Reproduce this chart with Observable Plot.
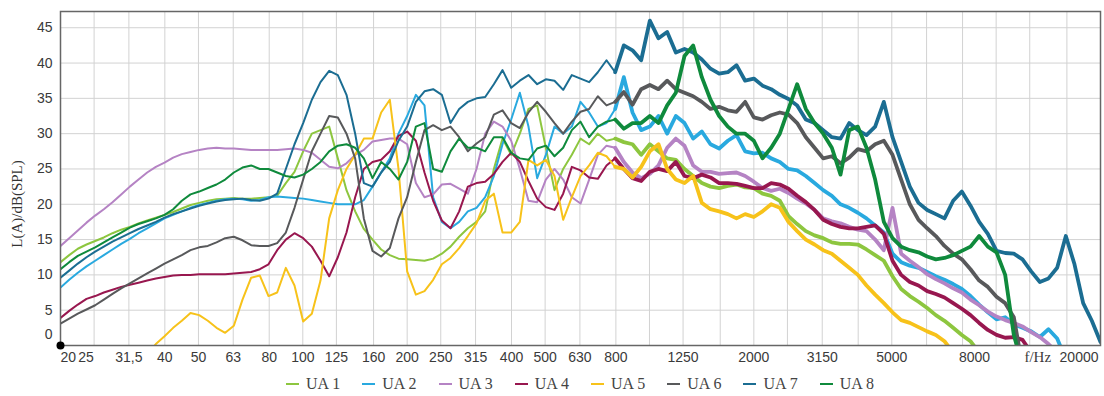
<!DOCTYPE html>
<html><head><meta charset="utf-8">
<script src="https://cdn.jsdelivr.net/npm/d3@7"></script>
<script src="https://cdn.jsdelivr.net/npm/@observablehq/plot@0.6"></script>
<style>
html,body{margin:0;padding:0;background:#fff;overflow:hidden;}
#wrap{position:relative;width:1104px;height:396px;}
#ylabel{position:absolute;left:17px;top:204px;transform:translate(-50%,-50%) rotate(-90deg);white-space:nowrap;font-family:"Liberation Serif",serif;font-size:15px;color:#333;}
#legend{display:flex;justify-content:center;align-items:center;box-sizing:border-box;padding-left:60px;padding-right:4px;height:24px;font-family:"Liberation Serif",serif;font-size:16px;color:#444;}
.item{display:flex;align-items:center;margin:0 11px;}
.sw{width:13px;height:2.5px;margin-right:7px;}
</style></head><body>
<div id="wrap"><div id="chart"></div><div id="legend"></div><div id="ylabel">L(A)/dB(SPL)</div></div>
<script>
// frequency grid (Hz), 1/12-octave steps from 20 Hz to 20 kHz
const freqs = [
20,21.19,22.44,23.77,25.18,26.67,28.25,29.93,31.7,33.58,35.57,37.68,
39.91,42.27,44.77,47.43,50.24,53.21,56.37,59.71,63.25,66.99,70.96,75.17,
79.62,84.34,89.34,94.63,100.24,106.18,112.47,119.14,126.19,133.67,141.59,149.98,
158.87,168.28,178.25,188.81,200,211.9,224.4,237.7,251.8,266.7,282.5,299.3,
317,335.8,355.7,376.8,399.1,422.7,447.7,474.3,502.4,532.1,563.7,597.1,
632.5,669.9,709.6,751.7,796.2,843.4,893.4,946.3,1002.4,1061.8,1124.7,1191.4,
1261.9,1336.7,1415.9,1499.8,1588.7,1682.8,1782.5,1888.1,2000,2119,2244,2377,
2518,2667,2825,2993,3170,3358,3557,3768,3991,4227,4477,4743,
5024,5321,5637,5971,6325,6699,7096,7517,7962,8434,8934,9463,
10024,10618,11247,11914,12619,13367,14159,14998,15887,16828,17825,18881,
20000];

const ua1 = [
11.8,12.8,13.7,14.3,14.8,15.3,15.9,16.4,16.8,17.3,17.7,18.1,
18.5,18.9,19.4,19.9,20.2,20.5,20.7,20.8,20.9,20.8,20.8,20.9,
21,21.2,23,24.6,27.5,30,30.5,31,26.5,22,19,16.5,
15,13.6,12.8,12.3,12.2,12.1,12,12.3,13,14,15.4,16.6,
17.5,19,25,29.3,27,30,33.5,34,28,22,25,27,
29.3,28.5,30,29,29.3,28.8,28.5,27,28.5,27.5,26.5,26.3,
25,24,23,22.5,22.3,22.6,22.8,22.4,22.3,21.5,21.2,20.5,
18.3,17.2,16.2,15.6,15.2,14.6,14.4,14.4,14.3,13.6,12.8,12,
9.8,8,7,6.2,5.3,4.3,3.5,2.5,1.5,0.6,-1,null,
null,null,null,null,null,null,null,null,null,null,null,null,
null];

const ua2 = [
8.2,9.3,10.3,11.2,12,12.8,13.6,14.4,15.1,15.9,16.6,17.3,
18,18.5,19,19.5,19.9,20.2,20.5,20.7,20.8,20.7,20.5,20.6,
21,21.1,21,20.9,20.8,20.6,20.4,20.2,20,20,20,20.6,
22.5,24.5,26.5,30,32.5,35.5,34,21,17.5,16.6,17.5,19,
19.5,21,24,28.5,32,35.8,31,23.7,27,31,30,31,
34.5,33,31,31.5,33.5,38,33,30.5,31,32.5,30,32.5,
31.5,29.3,30.3,28.5,27.9,29,29.8,27.5,27.2,27.3,26.5,26,
25,24.8,24,23,22,21.2,20,19.5,18.8,18,17,16,
13,11.8,11.3,11,10.4,9.8,9.3,8.7,8,7,5.8,4.7,
3.7,4,3,2.5,2,1.2,2.3,1,-2,null,null,null,
null];

const ua3 = [
14.1,15.2,16.3,17.4,18.4,19.3,20.3,21.4,22.5,23.5,24.5,25.3,
25.9,26.6,27.1,27.4,27.7,27.9,28,27.9,27.9,27.8,27.7,27.7,
27.7,27.7,27.8,27.9,27.7,27.3,26.3,25.3,25.1,25.8,27,27.7,
28.9,29.1,29.3,29.3,28.5,23,21,21.4,22.8,22.9,22.2,21.5,
25,30,31.7,31,29,25,20.5,20.3,23.5,25,23.5,21,
20.1,23.5,27,28.3,28,26,24.5,23.7,24.3,25.5,28,29.3,
28.3,25.5,24.6,24.6,24.3,24.4,24.5,24,23.2,22.3,21.9,22.2,
21.6,20.8,20.1,19.2,18,17.6,17.3,16.8,16.4,16.2,15,13.5,
19.5,13,12,11.1,10.1,9.4,8.8,8.1,7.5,6.5,5.7,4.8,
4.1,3.6,3.2,2.7,1.9,1.2,0.2,-1,null,null,null,null,
null];

const ua4 = [
3.9,4.9,5.8,6.6,7,7.5,7.9,8.3,8.6,8.9,9.2,9.5,
9.7,9.9,10,10,10.1,10.1,10.1,10.1,10.2,10.3,10.4,10.8,
11.5,13.5,15,15.9,15.2,14,12,9.8,12.5,16,21,25,
26,26.3,27.5,29.7,30.3,29,24.5,20.5,17.7,16.6,19,22.5,
23,23.2,24.3,26,27.3,26,23.3,20.8,19.6,19.2,21.5,25.3,
24.8,23.8,23.6,25.5,26.5,25,23.7,23.3,24.6,25,24.7,26,
24,23.7,24.2,23.8,23,23,22.9,22.6,22.3,22.3,23,22.8,
22.2,21.2,20.3,19.2,17.8,17.2,16.8,16.6,16.6,16.8,17,15.8,
12,10,9,8.5,7.7,7.3,6.8,6,5.2,4.3,3.2,2.2,
1.5,1.1,1.2,0.8,-1,null,null,null,null,null,null,null,
null];

const ua5 = [
null,null,null,null,null,null,null,null,null,null,-1.2,0.2,
1.3,2.5,3.5,4.6,4.3,3.5,2.5,1.8,2.8,6.5,9.6,9.9,
7,7.5,11,8.5,3.4,4.5,9.2,18,22,25,27,29.3,
29.3,33,34.8,25,10.5,7.2,7.7,9.3,11.5,12.4,13.8,15.5,
17.3,20.5,21.5,16,16,17.5,26.3,25.5,26.3,24,17.8,21,
24,25.5,27.3,26.8,25.3,25,23.8,25.3,27.5,28.5,25,23.5,
23,24,20.2,19.3,19,18.6,18,18.6,18.2,19,20,19.5,
17.5,16.2,15,14.3,13.5,13,12,11,10,8.5,7.2,6,
4.7,3.6,3.2,2.6,2,1.5,0.6,-1,null,null,null,null,
null,null,null,null,null,null,null,null,null,null,null,null,
null];

const ua6 = [
3.1,3.8,4.5,5.1,5.7,6.5,7.3,8.1,8.8,9.5,10.2,10.9,
11.6,12.2,12.8,13.5,13.9,14.1,14.6,15.2,15.4,14.9,14.2,14.1,
14.1,14.5,16,19.5,23.5,27.5,30,32.5,32.3,30,26.5,18,
13.4,12.6,13.8,18,21,26,30.5,31.2,30.5,31,29.5,27.5,
28.6,29.5,32.7,33.3,31.5,30.8,33,34.5,33.1,31.5,30,31.7,
33.1,33.5,35.3,34,34.5,35.9,34.1,36.3,36.9,36.3,37.5,36.3,
35.8,35.3,34.5,33.5,33.8,33.3,33.1,34.5,32.3,32,32.6,33,
32.7,31.5,29.5,28,26.5,26.8,25.8,26.6,27.8,27.5,28.5,29,
27,23.5,20,17.8,16.6,15.5,14.1,13,12.2,10.8,9.2,8.3,
6.9,6,4,-3,null,null,null,null,null,null,null,null,
null];

const ua7 = [
9.6,10.6,11.6,12.5,13.3,14,14.7,15.3,15.9,16.5,17,17.5,
18.1,18.6,19,19.4,19.8,20.1,20.4,20.6,20.7,20.8,20.6,20.5,
20.8,21.5,25,28.5,31.5,34.8,37.3,38.9,38.3,35.5,30,23,
22.5,24.5,26,29,31,34.5,36,36.3,35.5,31.5,33.5,34.5,
35,35.2,37,39,36.5,37.5,38.3,37,37.7,37.5,36.2,38.3,
37.8,37.3,38.7,40.4,38.7,42.5,41.8,40.4,46,43.5,44.4,41.5,
42,41.5,40.5,39.2,38.5,38.7,39.7,37.5,37.8,36.8,36.3,35.5,
34.9,34,32,31.5,30.5,29.5,29.3,31.5,30.5,29.8,31,34.5,
29.5,26,22.5,20.2,19.2,18.6,18,20.5,21.8,19.8,17.5,15.8,
13.4,13.1,13,12.2,10.5,9,9.5,11,15.5,11.5,6,3.5,
0.5];

const ua8 = [
10.8,11.8,12.7,13.3,13.9,14.6,15.3,16,16.7,17.2,17.6,18,
18.5,19.3,20.5,21.4,21.8,22.3,22.8,23.5,24.5,25.2,25.5,25,
25,24.5,24,23.8,24.2,25,26,27.5,28.3,28.5,28,26.5,
23.7,26,25,23.5,26,31,31.5,25,24.6,27.5,29.3,28,
28,27.5,29.5,29.5,27.3,26.5,26.3,27.9,28.3,26.8,28,30.5,
31.7,29.5,31,31.7,32,30.7,31.5,31.5,32.5,31.5,34,35.8,
41,42.5,38,34.8,32.5,31,30,30,29,26.5,28,30,
33.5,37,33.5,31.5,30,28,24.2,30.5,31,28,23.5,17.5,
15.2,14,13.5,13.2,12.6,12.2,12.4,12.8,13.4,14,15.5,14,
13.2,10,1.5,-3,null,null,null,null,null,null,null,null,
null];

const seriesNames = ["UA 1","UA 2","UA 3","UA 4","UA 5","UA 6","UA 7","UA 8"];
const seriesColors = ["#8dc63f","#29a9df","#b583c4","#98174f","#f7c21a","#58595b","#1b6d92","#0f8a3c"];
const seriesValues = [ua1,ua2,ua3,ua4,ua5,ua6,ua7,ua8];

// axes
const gridFreqs = [20,25,31.5,40,50,63,80,100,125,160,200,250,315,400,500,630,800,1000,1250,1600,2000,2500,3150,4000,5000,6300,8000,10000,12500,16000,20000];
const xTicks = [20,25,31.5,40,50,63,80,100,125,160,200,250,315,400,500,630,800,1250,2000,3150,5000,8000,12500,20000];
const xTickText = ["20","25","31,5","40","50","63","80","100","125","160","200","250","315","400","500","630","800","1250","2000","3150","5000","8000","f/Hz","20000"];
const yTicks = [5,10,15,20,25,30,35,40,45];
const yGrid = [0,5,10,15,20,25,30,35,40,45];
const xDomain = [20,20000];
const yDomain = [0,47.3];

const rows = seriesNames.flatMap((s,si) => freqs.map((f,k) => ({f, v: seriesValues[si][k], s})));
const noisy = rows.filter(d => d.f >= 790);
const idx = d3.range(xTicks.length);
const labelFont = {fontFamily:"Liberation Sans, Arial, sans-serif", fontSize:14, fill:"#3a3a3a"};

const chart = Plot.plot({
  width:1104, height:372,
  marginTop:11, marginBottom:27, marginLeft:60, marginRight:4,
  x:{type:"log", domain:xDomain, axis:null},
  y:{domain:yDomain, axis:null},
  color:{domain:seriesNames, range:seriesColors},
  style:{background:"#fff"},
  marks:[
    Plot.gridX(gridFreqs, {stroke:"#d2d2d2", strokeOpacity:1}),
    Plot.gridY(yGrid, {stroke:"#d2d2d2", strokeOpacity:1}),
    Plot.line(rows, {x:"f", y:"v", z:"s", stroke:"s", strokeWidth:2, strokeLinejoin:"round", clip:true}),
    Plot.line(noisy, {x:"f", y:"v", z:"s", stroke:"s", strokeWidth:3.8, strokeLinejoin:"round", clip:true}),
    Plot.frame({stroke:"#666", strokeWidth:1.5}),
    Plot.dot([0], {x:() => xDomain[0], y:() => yDomain[0], r:4, fill:"#000"}),
    Plot.axisY(yTicks, {tickSize:0, tickPadding:8, label:null, ...labelFont}),
    Plot.text(["0"], {frameAnchor:"bottom-left", dx:-8, dy:-7, textAnchor:"end", ...labelFont}),
    Plot.text(idx.filter(i => i > 1 && i < 21), {x:i => xTicks[i], text:i => xTickText[i], frameAnchor:"bottom", dy:16, ...labelFont}),
    Plot.text([0], {x:i => xTicks[i], text:i => xTickText[i], frameAnchor:"bottom", dy:16, textAnchor:"start", dx:0, ...labelFont}),
    Plot.text([1], {x:i => xTicks[i], text:i => xTickText[i], frameAnchor:"bottom", dy:16, dx:-8, ...labelFont}),
    Plot.text([21], {x:i => xTicks[i], text:i => xTickText[i], frameAnchor:"bottom", dy:16, dx:12, ...labelFont}),
    Plot.text([22], {x:i => xTicks[i], text:i => xTickText[i], frameAnchor:"bottom", dy:16, dx:8, ...labelFont, fontFamily:"Liberation Serif, serif", fontSize:15}),
    Plot.text([23], {x:i => xTicks[i], text:i => xTickText[i], frameAnchor:"bottom", dy:16, textAnchor:"end", dx:-2, ...labelFont})
  ]
});
document.getElementById("chart").appendChild(chart);

const legend = document.getElementById("legend");
seriesNames.forEach((n,i) => {
  const it = document.createElement("div"); it.className = "item";
  const sw = document.createElement("span"); sw.className = "sw"; sw.style.background = seriesColors[i];
  const tx = document.createElement("span"); tx.textContent = n;
  it.appendChild(sw); it.appendChild(tx); legend.appendChild(it);
});
</script>
</body></html>
